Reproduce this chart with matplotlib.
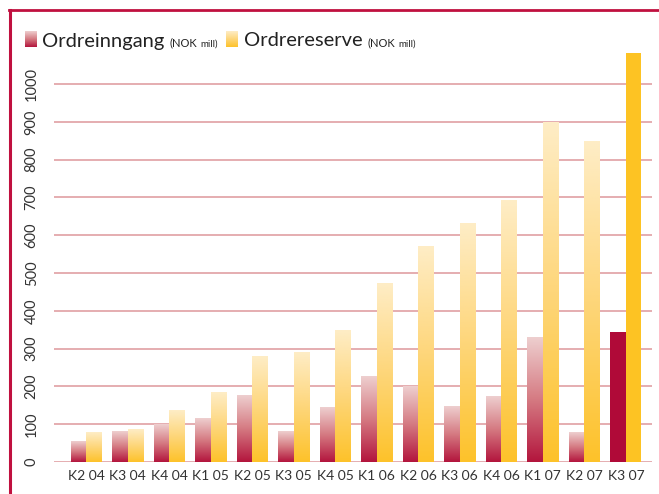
import numpy as np
import matplotlib
matplotlib.use("Agg")
import matplotlib.pyplot as plt
from matplotlib.colors import LinearSegmentedColormap
from matplotlib.lines import Line2D

plt.rcParams['font.family'] = ['Lato', 'DejaVu Sans']

quarters = ["K2 04", "K3 04", "K4 04", "K1 05", "K2 05", "K3 05", "K4 05",
            "K1 06", "K2 06", "K3 06", "K4 06", "K1 07", "K2 07", "K3 07"]
ordreinngang = [53, 82, 100, 114, 175, 82, 145, 225, 201, 148, 172, 330, 77, 344]
ordrereserve = [77, 85, 135, 185, 280, 291, 347, 471, 571, 632, 693, 899, 849, 1082]
yticks = [0, 100, 200, 300, 400, 500, 600, 700, 800, 900, 1000]

W, H = 659, 494
fig = plt.figure(figsize=(W / 100, H / 100), dpi=100)
ax = fig.add_axes([54 / W, 1 - 462 / H, (652 - 54) / W, (462 - 50) / H])

red_cmap = LinearSegmentedColormap.from_list("r", ["#b3153d", "#d57a82", "#eecfcf"])
yel_cmap = LinearSegmentedColormap.from_list("y", ["#fdc22a", "#fed67a", "#feedc6"])
red_solid = "#b00a38"
yel_solid = "#fdc323"

x = np.arange(len(quarters))
bw = 0.37
grad = np.linspace(0, 1, 256).reshape(-1, 1)

def gbar(xc, h, cmap, solid):
    bars = ax.bar(xc, h, width=bw, color="none", edgecolor="none", zorder=2)
    for b in bars:
        x0 = b.get_x()
        x1 = x0 + b.get_width()
        hh = b.get_height()
        if solid is None:
            ax.imshow(grad, extent=[x0, x1, 0, hh], origin="lower", cmap=cmap,
                      aspect="auto", zorder=2, interpolation="bilinear")
        else:
            b.set_facecolor(solid)

for i in range(len(quarters)):
    last = i == len(quarters) - 1
    gbar([x[i] - bw / 2], [ordreinngang[i]], red_cmap, red_solid if last else None)
    gbar([x[i] + bw / 2], [ordrereserve[i]], yel_cmap, yel_solid if last else None)

ax.set_xlim(-0.77, 13.63)
ax.set_ylim(0, 1090)
ax.set_yticks(yticks)
ax.set_yticklabels([str(v) for v in yticks], rotation=90, va="center",
                   fontsize=10.5, color="#333333")
ax.set_xticks(x)
ax.set_xticklabels(quarters, fontsize=10, color="#333333")
ax.tick_params(axis="y", length=0, pad=11)
ax.tick_params(axis="x", length=0, pad=6)
ax.set_axisbelow(True)
ax.yaxis.grid(True, color="#e0a0a3", linewidth=1.2)
for s in ax.spines.values():
    s.set_visible(False)

# frame
frame_c = "#c0103f"
fig.add_artist(Line2D([9.5 / W, 9.5 / W], [0, 1 - 10 / H], color=frame_c, lw=2.2,
                      transform=fig.transFigure))
fig.add_artist(Line2D([8.5 / W, 1], [1 - 10.5 / H, 1 - 10.5 / H], color=frame_c, lw=2.0,
                      transform=fig.transFigure))

# legend
def square(x0, cmap):
    a = fig.add_axes([x0 / W, 1 - 47 / H, 12 / W, 16 / H])
    a.imshow(grad, origin="lower", cmap=cmap, aspect="auto")
    a.axis("off")

square(25, red_cmap)
square(226, yel_cmap)
base = 1 - 46.5 / H
tc = "#222222"
renderer = fig.canvas.get_renderer()

def legend_text(x0, label):
    t = fig.text(x0 / W, base, label, fontsize=14.5, color=tc, va="baseline")
    x_end = t.get_window_extent(renderer).x1
    t2 = fig.text((x_end + 5) / W, base, "(NOK", fontsize=8, color=tc, va="baseline")
    x_end2 = t2.get_window_extent(renderer).x1
    fig.text((x_end2 + 3) / W, base, "mill)", fontsize=7, color=tc, va="baseline")

legend_text(42, "Ordreinngang")
legend_text(244, "Ordrereserve")

fig.savefig("out.png", dpi=100)
